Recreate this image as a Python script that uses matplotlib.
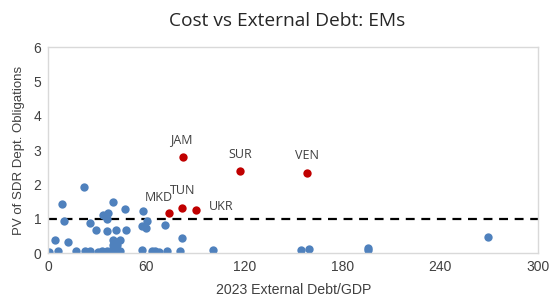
import matplotlib
matplotlib.use("Agg")
import matplotlib.pyplot as plt

# blue: other EMs
debt_other = [0.3, 5.9, 16.7, 22.2, 25.3, 30.2, 33.0, 35.8, 38.9, 41.4, 43.9,
              57.6, 63.3, 65.3, 67.8, 72.4, 80.4, 100.6, 154.7, 159.8, 195.6, 196.0, 269.4,
              22.0, 8.4, 39.8, 47.0, 57.8, 33.3, 36.7, 35.7, 9.6, 25.5, 60.4, 71.7,
              57.4, 59.8, 29.4, 35.7, 41.6, 47.8, 4.1, 12.1, 81.9, 39.8, 43.9, 42.3, 39.4]
pv_other = [0.03, 0.06, 0.08, 0.06, 0.07, 0.04, 0.06, 0.08, 0.10, 0.08, 0.06,
            0.10, 0.08, 0.07, 0.05, 0.06, 0.08, 0.10, 0.10, 0.12, 0.10, 0.16, 0.48,
            1.92, 1.42, 1.50, 1.28, 1.22, 1.11, 1.18, 0.99, 0.93, 0.89, 0.94, 0.83,
            0.78, 0.73, 0.69, 0.64, 0.69, 0.69, 0.40, 0.34, 0.45, 0.38, 0.40, 0.25, 0.24]

# red: highlighted countries
names = ["JAM", "SUR", "VEN", "MKD", "TUN", "UKR"]
debt_hi = [82.7, 117.6, 158.6, 74.1, 81.9, 90.4]
pv_hi = [2.79, 2.39, 2.35, 1.17, 1.33, 1.25]
label_offsets = [(-1.5, 12.5), (0, 12), (0, 12), (-7.5, 11), (0.5, 12), (18, 3)]

threshold = 1
xticks = [0, 60, 120, 180, 240, 300]
yticks = [0, 1, 2, 3, 4, 5, 6]

fig = plt.figure(figsize=(5.52, 3.01), dpi=100)
ax = fig.add_axes([0.0875, 0.1585, 0.8875, 0.6853])

ax.axhline(threshold, color="black", linestyle=(0, (4, 3)), linewidth=1.6, zorder=1)
ax.scatter(debt_other, pv_other, s=36, color="#4F81BD", linewidths=0, zorder=2)
ax.scatter(debt_hi, pv_hi, s=36, color="#C00000", linewidths=0, zorder=3)

for name, x, y, off in zip(names, debt_hi, pv_hi, label_offsets):
    ax.annotate(name, (x, y), xytext=off, textcoords="offset points",
                ha="center", va="center", fontsize=9, color="#404040",
                family="Open Sans")

ax.set_xlim(0, 300)
ax.set_ylim(0, 6)
ax.set_xticks(xticks)
ax.set_yticks(yticks)
ax.tick_params(length=0, labelsize=10, labelcolor="#404040", pad=5)
for lab in ax.get_xticklabels() + ax.get_yticklabels():
    lab.set_family("Liberation Sans")
for sp in ax.spines.values():
    sp.set_color("#D9D9D9")
    sp.set_linewidth(1)

ax.set_xlabel("2023 External Debt/GDP", fontsize=10.2, color="#404040",
              family="Liberation Sans", labelpad=6)
ax.set_ylabel("PV of SDR Dept. Obligations", fontsize=9.5, color="#404040",
              family="Liberation Sans", labelpad=6)
fig.suptitle("Cost vs External Debt: EMs", x=0.52, y=0.96, fontsize=13.8,
             color="#262626", family="Open Sans")

fig.savefig("out.png", dpi=100)
